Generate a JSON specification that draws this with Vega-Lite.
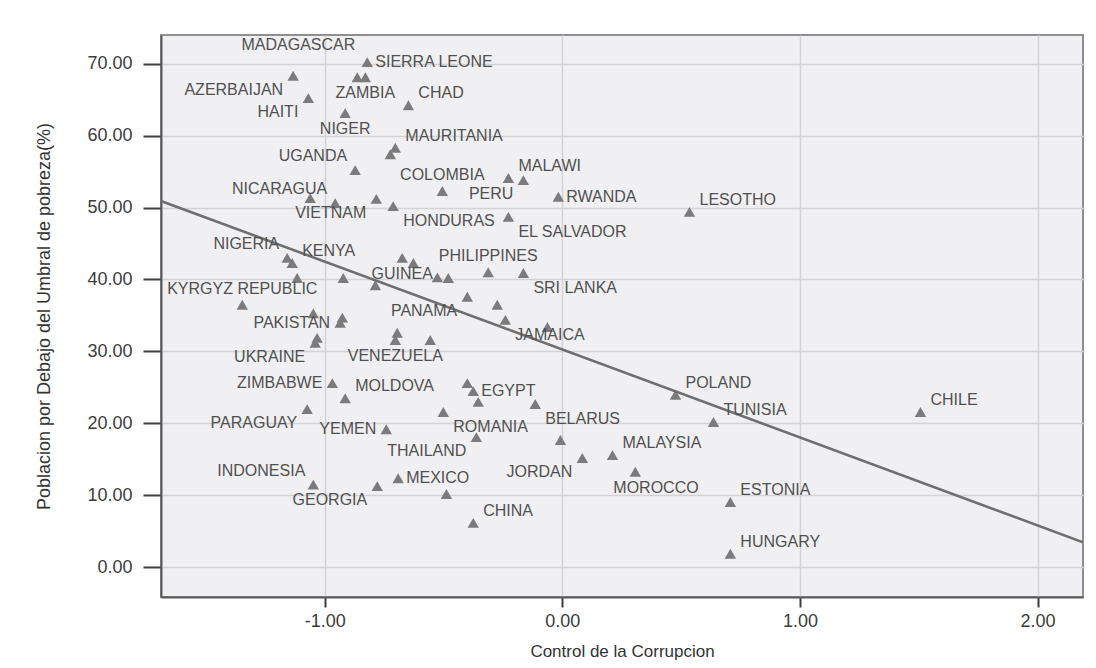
{
  "$schema": "https://vega.github.io/schema/vega-lite/v6.json",
  "width": 922,
  "height": 562,
  "autosize": {"type": "none"},
  "padding": {"left": 161, "top": 35, "right": 13, "bottom": 71},
  "background": "white",
  "datasets": {
    "paises": [
      {"pais": "AZERBAIJAN", "control": -1.133, "pobreza": 68.3},
      {"pais": "HAITI", "control": -1.069, "pobreza": 65.2},
      {"pais": "MADAGASCAR", "control": -0.863, "pobreza": 68.1},
      {"pais": "ZAMBIA", "control": -0.829, "pobreza": 68.1},
      {"pais": "SIERRA LEONE", "control": -0.821, "pobreza": 70.2},
      {"pais": "NIGER", "control": -0.914, "pobreza": 63.1},
      {"pais": "CHAD", "control": -0.648, "pobreza": 64.2},
      {"pais": "MAURITANIA", "control": -0.703, "pobreza": 58.3},
      {"pais": "", "control": -0.724, "pobreza": 57.4},
      {"pais": "UGANDA", "control": -0.872, "pobreza": 55.2},
      {"pais": "COLOMBIA", "control": -0.505, "pobreza": 52.3},
      {"pais": "MALAWI", "control": -0.227, "pobreza": 54.1},
      {"pais": "PERU", "control": -0.164, "pobreza": 53.8},
      {"pais": "RWANDA", "control": -0.017, "pobreza": 51.5},
      {"pais": "LESOTHO", "control": 0.535, "pobreza": 49.4},
      {"pais": "", "control": -1.061, "pobreza": 51.3},
      {"pais": "NICARAGUA", "control": -0.956, "pobreza": 50.6},
      {"pais": "VIETNAM", "control": -0.783, "pobreza": 51.2},
      {"pais": "HONDURAS", "control": -0.712, "pobreza": 50.2},
      {"pais": "EL SALVADOR", "control": -0.227, "pobreza": 48.7},
      {"pais": "NIGERIA", "control": -1.158, "pobreza": 43.0},
      {"pais": "KENYA", "control": -1.137, "pobreza": 42.3},
      {"pais": "", "control": -1.116, "pobreza": 40.2},
      {"pais": "", "control": -0.922, "pobreza": 40.2},
      {"pais": "GUINEA", "control": -0.674, "pobreza": 43.0},
      {"pais": "", "control": -0.627, "pobreza": 42.3},
      {"pais": "", "control": -0.787, "pobreza": 39.2},
      {"pais": "", "control": -0.526, "pobreza": 40.3},
      {"pais": "", "control": -0.48, "pobreza": 40.2},
      {"pais": "PHILIPPINES", "control": -0.312, "pobreza": 41.0},
      {"pais": "SRI LANKA", "control": -0.164, "pobreza": 40.9},
      {"pais": "PANAMA", "control": -0.4, "pobreza": 37.6},
      {"pais": "", "control": -0.274, "pobreza": 36.5},
      {"pais": "JAMAICA", "control": -0.24, "pobreza": 34.4},
      {"pais": "", "control": -0.063, "pobreza": 33.4},
      {"pais": "KYRGYZ REPUBLIC", "control": -1.347, "pobreza": 36.5},
      {"pais": "", "control": -1.048, "pobreza": 35.3},
      {"pais": "", "control": -0.926, "pobreza": 34.7},
      {"pais": "PAKISTAN", "control": -0.935, "pobreza": 34.0},
      {"pais": "", "control": -1.032, "pobreza": 31.9},
      {"pais": "UKRAINE", "control": -1.04, "pobreza": 31.2},
      {"pais": "", "control": -0.695, "pobreza": 32.6},
      {"pais": "VENEZUELA", "control": -0.703, "pobreza": 31.6},
      {"pais": "", "control": -0.556, "pobreza": 31.6},
      {"pais": "ZIMBABWE", "control": -0.968, "pobreza": 25.6},
      {"pais": "MOLDOVA", "control": -0.914, "pobreza": 23.5},
      {"pais": "PARAGUAY", "control": -1.074, "pobreza": 22.0},
      {"pais": "ROMANIA", "control": -0.501, "pobreza": 21.6},
      {"pais": "", "control": -0.4, "pobreza": 25.6},
      {"pais": "EGYPT", "control": -0.375, "pobreza": 24.5},
      {"pais": "", "control": -0.354, "pobreza": 23.0},
      {"pais": "BELARUS", "control": -0.114, "pobreza": 22.7},
      {"pais": "POLAND", "control": 0.476, "pobreza": 24.0},
      {"pais": "TUNISIA", "control": 0.636, "pobreza": 20.2},
      {"pais": "CHILE", "control": 1.507, "pobreza": 21.6},
      {"pais": "YEMEN", "control": -0.741, "pobreza": 19.2},
      {"pais": "THAILAND", "control": -0.362, "pobreza": 18.1},
      {"pais": "", "control": -0.008, "pobreza": 17.7},
      {"pais": "JORDAN", "control": 0.084, "pobreza": 15.2},
      {"pais": "MALAYSIA", "control": 0.211, "pobreza": 15.6},
      {"pais": "MOROCCO", "control": 0.307, "pobreza": 13.3},
      {"pais": "MEXICO", "control": -0.691, "pobreza": 12.4},
      {"pais": "GEORGIA", "control": -0.779, "pobreza": 11.3},
      {"pais": "INDONESIA", "control": -1.048, "pobreza": 11.5},
      {"pais": "", "control": -0.488, "pobreza": 10.2},
      {"pais": "ESTONIA", "control": 0.707, "pobreza": 9.1},
      {"pais": "CHINA", "control": -0.375, "pobreza": 6.2},
      {"pais": "HUNGARY", "control": 0.707, "pobreza": 1.9}
    ],
    "recta": [
      {"control": -1.689, "pobreza": 50.9},
      {"control": 2.191, "pobreza": 3.5}
    ]
  },
  "data": {"name": "paises"},
  "encoding": {
    "x": {
      "field": "control", "type": "quantitative",
      "scale": {"domain": [-1.689, 2.191], "nice": false, "zero": false},
      "axis": {"values": [-1, 0, 1, 2], "format": ".2f", "title": "Control de la Corrupcion",
               "tickSize": 10, "labelPadding": 5, "titlePadding": 13}
    },
    "y": {
      "field": "pobreza", "type": "quantitative",
      "scale": {"domain": [-4.1, 73.96], "nice": false, "zero": false},
      "axis": {"values": [0, 10, 20, 30, 40, 50, 60, 70], "format": ".2f",
               "title": "Poblacion por Debajo del Umbral de pobreza(%)",
               "tickSize": 18, "labelPadding": 11, "titlePadding": 33}
    }
  },
  "layer": [
    {
      "mark": {"type": "point", "shape": "triangle-up", "filled": true, "size": 130, "color": "#7b7b7b", "opacity": 1}
    },
    {
      "data": {"name": "recta"},
      "mark": {"type": "line", "color": "#6f6f6f", "strokeWidth": 2.6, "clip": true}
    },
    {
      "transform": [{"filter": {"field": "pais", "oneOf": ["SIERRA LEONE", "RWANDA", "EGYPT", "MEXICO"]}}],
      "mark": {"type": "text", "align": "left", "baseline": "middle", "dx": 8, "dy": 0},
      "encoding": {"text": {"field": "pais"}}
    },
    {
      "transform": [{"filter": {"field": "pais", "oneOf": ["PAKISTAN", "ZIMBABWE", "YEMEN"]}}],
      "mark": {"type": "text", "align": "right", "baseline": "middle", "dx": -10, "dy": 0},
      "encoding": {"text": {"field": "pais"}}
    },
    {
      "transform": [{"filter": {"field": "pais", "oneOf": ["COLOMBIA", "PHILIPPINES", "KYRGYZ REPUBLIC"]}}],
      "mark": {"type": "text", "align": "center", "baseline": "middle", "dx": 0, "dy": -16},
      "encoding": {"text": {"field": "pais"}}
    },
    {
      "transform": [{"filter": {"field": "pais", "oneOf": ["ZAMBIA", "NIGER", "GUINEA", "VENEZUELA"]}}],
      "mark": {"type": "text", "align": "center", "baseline": "middle", "dx": 0, "dy": 16},
      "encoding": {"text": {"field": "pais"}}
    },
    {
      "transform": [{"filter": {"field": "pais", "oneOf": ["CHAD", "MAURITANIA", "MALAWI", "LESOTHO", "KENYA", "MOLDOVA", "POLAND", "CHILE", "TUNISIA", "MALAYSIA", "ESTONIA", "CHINA", "HUNGARY"]}}],
      "mark": {"type": "text", "align": "left", "baseline": "middle", "dx": 10, "dy": -12},
      "encoding": {"text": {"field": "pais"}}
    },
    {
      "transform": [{"filter": {"field": "pais", "oneOf": ["UGANDA", "NICARAGUA", "NIGERIA", "INDONESIA"]}}],
      "mark": {"type": "text", "align": "right", "baseline": "middle", "dx": -8, "dy": -14},
      "encoding": {"text": {"field": "pais"}}
    },
    {
      "transform": [{"filter": {"field": "pais", "oneOf": ["HONDURAS", "EL SALVADOR", "SRI LANKA", "JAMAICA", "ROMANIA", "BELARUS"]}}],
      "mark": {"type": "text", "align": "left", "baseline": "middle", "dx": 10, "dy": 15},
      "encoding": {"text": {"field": "pais"}}
    },
    {
      "transform": [{"filter": {"field": "pais", "oneOf": ["AZERBAIJAN", "HAITI", "VIETNAM", "PANAMA", "UKRAINE", "PARAGUAY", "THAILAND", "JORDAN", "GEORGIA", "PERU"]}}],
      "mark": {"type": "text", "align": "right", "baseline": "middle", "dx": -10, "dy": 14},
      "encoding": {"text": {"field": "pais"}}
    },
    {
      "transform": [{"filter": {"field": "pais", "equal": "MADAGASCAR"}}],
      "mark": {"type": "text", "align": "right", "baseline": "middle", "dx": -2, "dy": -32},
      "encoding": {"text": {"field": "pais"}}
    },
    {
      "transform": [{"filter": {"field": "pais", "equal": "MOROCCO"}}],
      "mark": {"type": "text", "align": "left", "baseline": "middle", "dx": -22, "dy": 16},
      "encoding": {"text": {"field": "pais"}}
    }
  ],
  "config": {
    "locale": {"number": {"decimal": ".", "thousands": ",", "grouping": [3], "currency": ["$", ""], "minus": "-"}},
    "view": {"fill": "#f0f0f2", "stroke": "#8f8f8f", "strokeWidth": 2},
    "text": {"font": "Liberation Sans", "fontSize": 16, "color": "#505050"},
    "axis": {
      "labelFont": "Liberation Sans", "labelFontSize": 18, "labelColor": "#3c3c3c",
      "titleFont": "Liberation Sans", "titleFontSize": 17, "titleFontWeight": "normal", "titleColor": "#333333",
      "domain": true, "domainColor": "#5a5a5a", "domainWidth": 2,
      "tickColor": "#3c3c3c", "tickWidth": 2,
      "grid": true, "gridColor": "#d3d3d6", "gridWidth": 1.5
    },
    "axisY": {"titleFontSize": 18}
  }
}
